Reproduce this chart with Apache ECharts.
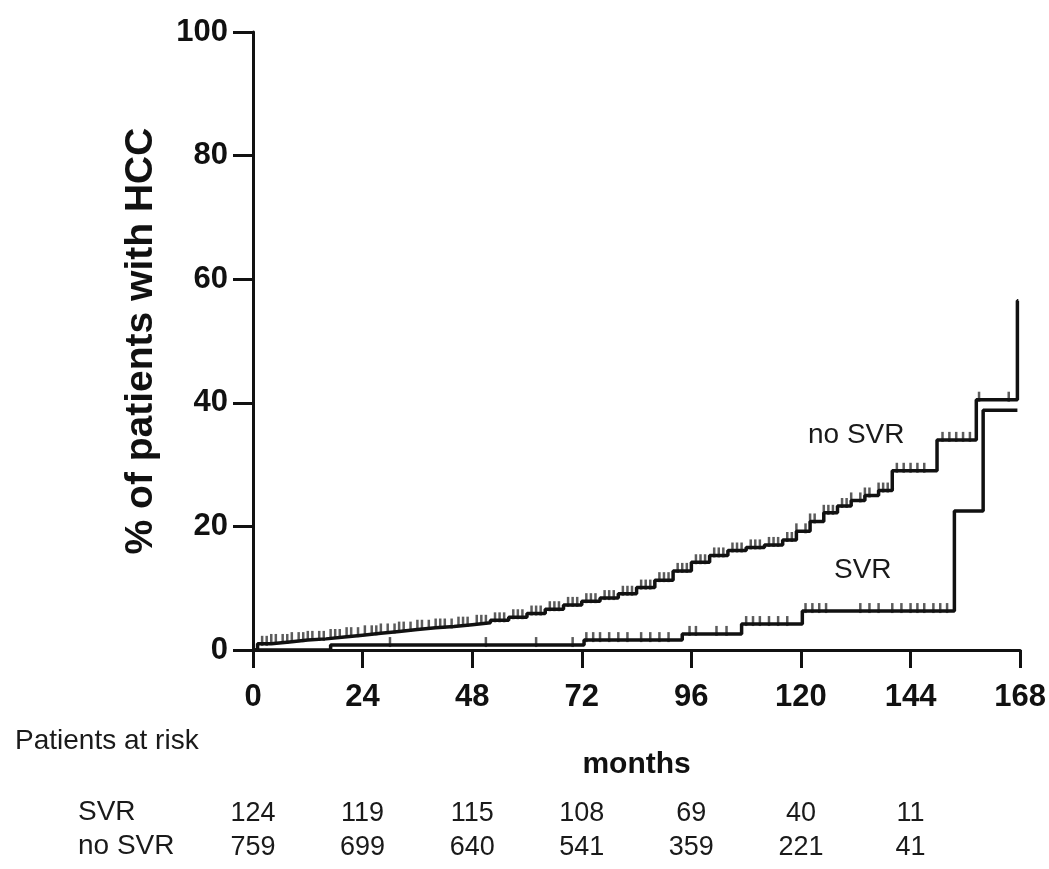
<!DOCTYPE html>
<html>
<head>
<meta charset="utf-8">
<script src="https://cdn.jsdelivr.net/npm/echarts@6/dist/echarts.min.js"></script>
<style>
  html, body { margin: 0; padding: 0; background: #fff; }
  #chart { width: 1049px; height: 869px; }
</style>
</head>
<body>
<div id="chart"></div>
<script>
// cumulative incidence (%), step points [month, value]
const noSvrSteps = [
  [0, 0], [1, 1.0], [4, 1.3], [8, 1.6], [12, 1.8], [16, 2.1], [20, 2.4], [24, 2.7],
  [28, 3.0], [32, 3.3], [36, 3.6], [40, 3.8], [44, 4.1], [48, 4.4], [52, 4.8], [56, 5.3],
  [60, 5.9], [64, 6.6], [68, 7.3], [72, 7.9], [76, 8.4], [80, 9.1], [84, 10.1], [88, 11.3],
  [92, 12.8], [96, 14.2], [100, 15.3], [104, 16.1], [108, 16.6], [112, 17.0], [116, 17.8],
  [119, 19.2], [122, 20.8], [125, 22.2], [128, 23.3], [131, 24.2], [134, 25.0], [137, 25.8],
  [140, 29.0], [149.8, 34.0], [158.4, 40.5], [167.4, 56.5], [167.6, 56.5]
];
const svrSteps = [
  [0, 0], [17, 0.8], [72.5, 1.6], [94, 2.6], [107, 4.2], [120.3, 6.3],
  [153.6, 22.5], [159.9, 38.8], [167.4, 38.8]
];
// censored observations (months)
const noSvrCensored = [
  2, 3, 4, 5, 6.5, 7.5, 8.5, 10, 11, 12, 13, 14.5, 15.5, 17, 18, 19, 20.5, 21.5, 23, 24.5,
  26, 27, 28, 29.5, 31, 32, 33, 34.5, 36, 37, 38.5, 40, 41, 42, 43.5, 45, 46, 47, 49, 50,
  51, 53, 54, 55, 57, 58, 59, 61, 62, 63, 65, 66, 67, 69, 70, 71, 73, 74, 75, 77, 78, 79,
  81, 82, 83, 85, 86, 87, 89, 90, 91, 93, 94, 95, 97, 98, 99, 101, 102, 103, 105, 106, 107,
  109, 110, 111, 113, 114, 115, 117, 118, 119, 121, 122, 123, 125, 126, 127, 129, 130,
  131, 133, 134, 135, 137, 138, 139, 141, 142.5, 144, 145.5, 147, 151, 152.5, 154, 155.5,
  157, 159, 165.5
];
const svrCensored = [
  30, 51, 62, 70, 73, 74.5, 76, 78, 80, 82, 85, 87, 89, 91, 95.6, 97, 101.5, 103.7,
  108, 109.5, 111, 113, 115, 117, 121, 122.5, 124, 125.5, 133, 135, 137, 140, 142, 144,
  145.5, 147, 149, 150.5, 152
];
// patients at risk
const riskMonths = [0, 24, 48, 72, 96, 120, 144];
const svrAtRisk = [124, 119, 115, 108, 69, 40, 11];
const noSvrAtRisk = [759, 699, 640, 541, 359, 221, 41];

function stepAt(steps, t) {
  let v = 0;
  for (const p of steps) { if (p[0] <= t) v = p[1]; }
  return v;
}
function riskLabel(arr) {
  return (val) => {
    const i = riskMonths.indexOf(val);
    return i >= 0 ? String(arr[i]) : '';
  };
}

const FONT = "'Liberation Sans', Arial, sans-serif";
const black = '#111';

const hiddenAxis = (offset, arr) => ({
  type: 'value', min: 0, max: 168, interval: 24, position: 'bottom', offset: offset,
  axisLine: { show: false }, axisTick: { show: false }, splitLine: { show: false },
  axisLabel: { formatter: riskLabel(arr), color: '#1a1a1a', fontSize: 27, fontFamily: FONT, margin: 0 }
});

const chart = echarts.init(document.getElementById('chart'));
chart.setOption({
  animation: false,
  backgroundColor: '#fff',
  grid: { left: 253, right: 28, top: 32, bottom: 219 },
  xAxis: [
    {
      type: 'value', min: 0, max: 168, interval: 24,
      name: 'months', nameLocation: 'middle', nameGap: 100,
      nameTextStyle: { color: black, fontSize: 30, fontWeight: 'bold', fontFamily: FONT },
      axisLine: { lineStyle: { color: black, width: 3 } },
      axisTick: { length: 18, lineStyle: { color: black, width: 3 } },
      axisLabel: { color: black, fontSize: 31, fontWeight: 'bold', fontFamily: FONT, margin: 32 },
      splitLine: { show: false }
    },
    hiddenAxis(150, svrAtRisk),
    hiddenAxis(184, noSvrAtRisk)
  ],
  yAxis: {
    type: 'value', min: 0, max: 100, interval: 20,
    name: '% of patients with HCC', nameLocation: 'middle', nameGap: 92, nameRotate: 90,
    nameTextStyle: { color: black, fontSize: 39, fontWeight: 'bold', fontFamily: FONT },
    axisLine: { lineStyle: { color: black, width: 3 } },
    axisTick: { length: 20, lineStyle: { color: black, width: 3 } },
    axisLabel: { color: black, fontSize: 31, fontWeight: 'bold', fontFamily: FONT, margin: 25 },
    splitLine: { show: false }
  },
  series: [
    {
      name: 'no SVR', type: 'line', step: 'end', data: noSvrSteps,
      showSymbol: false, lineStyle: { color: black, width: 3.5 }, z: 3
    },
    {
      name: 'SVR', type: 'line', step: 'end', data: svrSteps,
      showSymbol: false, lineStyle: { color: black, width: 3.5 }, z: 3
    },
    {
      name: 'no SVR censored', type: 'scatter', symbol: 'rect', symbolSize: [2.5, 10],
      symbolOffset: [0, -3], itemStyle: { color: '#333' },
      data: noSvrCensored.map(t => [t, stepAt(noSvrSteps, t)])
    },
    {
      name: 'SVR censored', type: 'scatter', symbol: 'rect', symbolSize: [2.5, 10],
      symbolOffset: [0, -3], itemStyle: { color: '#333' },
      data: svrCensored.map(t => [t, stepAt(svrSteps, t)])
    }
  ],
  graphic: [
    { type: 'text', left: 808, top: 421, style: { text: 'no SVR', fontSize: 28, fontFamily: FONT, fill: '#1a1a1a' } },
    { type: 'text', left: 834, top: 556, style: { text: 'SVR', fontSize: 28, fontFamily: FONT, fill: '#1a1a1a' } },
    { type: 'text', left: 15, top: 727, style: { text: 'Patients at risk', fontSize: 28, fontFamily: FONT, fill: '#1a1a1a' } },
    { type: 'text', left: 78, top: 798, style: { text: 'SVR', fontSize: 28, fontFamily: FONT, fill: '#1a1a1a' } },
    { type: 'text', left: 78, top: 832, style: { text: 'no SVR', fontSize: 28, fontFamily: FONT, fill: '#1a1a1a' } }
  ]
});
</script>
</body>
</html>
